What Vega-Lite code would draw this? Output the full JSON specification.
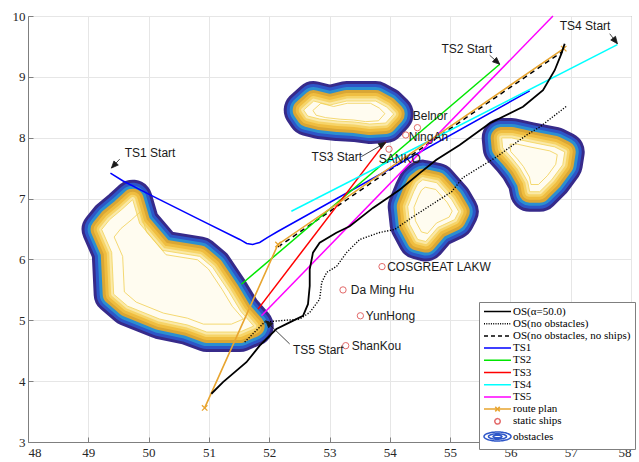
{
 "$schema": "https://vega.github.io/schema/vega-lite/v6.json",
 "width": 603, "height": 426,
 "autosize": {"type": "none"},
 "padding": {"left": 28, "top": 16, "right": 8, "bottom": 20},
 "background": "white",
 "config": {
  "view": {"stroke": "#7f7f7f", "strokeWidth": 1},
  "axis": {"domainColor": "#7f7f7f", "gridColor": "#e6e6e6", "gridWidth": 1, "tickColor": "#7f7f7f", "tickSize": -5, "labelFont": "Liberation Serif", "labelFontSize": 13, "labelColor": "#262626", "title": null},
  "axisX": {"labelPadding": 9},
  "axisY": {"labelPadding": 8}
 },
 "datasets": {
  "obs": [
   {"id":"o1","x":49.736,"y":6.982},{"id":"o1","x":49.852,"y":6.590},{"id":"o1","x":50.234,"y":6.148},{"id":"o1","x":50.848,"y":6.050},{"id":"o1","x":51.063,"y":5.870},{"id":"o1","x":51.328,"y":5.478},{"id":"o1","x":51.527,"y":5.150},{"id":"o1","x":51.743,"y":4.905},{"id":"o1","x":51.511,"y":4.807},{"id":"o1","x":50.964,"y":4.807},{"id":"o1","x":50.649,"y":4.922},{"id":"o1","x":50.184,"y":5.020},{"id":"o1","x":49.653,"y":5.232},{"id":"o1","x":49.421,"y":5.429},{"id":"o1","x":49.388,"y":6.116},{"id":"o1","x":49.222,"y":6.492},{"id":"o1","x":49.355,"y":6.655},{"id":"o1","x":49.554,"y":6.819},{"id":"o1","x":49.736,"y":6.982},
   {"id":"o2","x":52.572,"y":8.454},{"id":"o2","x":52.738,"y":8.602},{"id":"o2","x":53.003,"y":8.536},{"id":"o2","x":53.285,"y":8.602},{"id":"o2","x":53.766,"y":8.602},{"id":"o2","x":53.949,"y":8.503},{"id":"o2","x":54.065,"y":8.389},{"id":"o2","x":53.932,"y":8.242},{"id":"o2","x":53.667,"y":8.225},{"id":"o2","x":53.418,"y":8.258},{"id":"o2","x":53.136,"y":8.274},{"id":"o2","x":52.838,"y":8.307},{"id":"o2","x":52.639,"y":8.356},{"id":"o2","x":52.572,"y":8.454},
   {"id":"o3","x":54.546,"y":7.309},{"id":"o3","x":54.778,"y":7.260},{"id":"o3","x":55.027,"y":6.982},{"id":"o3","x":55.143,"y":6.786},{"id":"o3","x":55.076,"y":6.655},{"id":"o3","x":54.795,"y":6.524},{"id":"o3","x":54.596,"y":6.295},{"id":"o3","x":54.463,"y":6.328},{"id":"o3","x":54.330,"y":6.573},{"id":"o3","x":54.297,"y":6.868},{"id":"o3","x":54.397,"y":7.113},{"id":"o3","x":54.463,"y":7.244},{"id":"o3","x":54.546,"y":7.309},
   {"id":"o4","x":55.856,"y":7.996},{"id":"o4","x":56.022,"y":7.996},{"id":"o4","x":56.320,"y":7.931},{"id":"o4","x":56.735,"y":7.849},{"id":"o4","x":56.901,"y":7.767},{"id":"o4","x":56.868,"y":7.555},{"id":"o4","x":56.685,"y":7.309},{"id":"o4","x":56.486,"y":7.113},{"id":"o4","x":56.320,"y":7.113},{"id":"o4","x":56.287,"y":7.277},{"id":"o4","x":56.154,"y":7.506},{"id":"o4","x":56.022,"y":7.669},{"id":"o4","x":55.872,"y":7.833},{"id":"o4","x":55.856,"y":7.996}
  ],
  "obsIn": [
   {"id":"o1","x":49.865,"y":6.786},{"id":"o1","x":49.964,"y":6.453},{"id":"o1","x":50.289,"y":6.077},{"id":"o1","x":50.811,"y":5.994},{"id":"o1","x":50.993,"y":5.841},{"id":"o1","x":51.219,"y":5.507},{"id":"o1","x":51.388,"y":5.229},{"id":"o1","x":51.571,"y":5.020},{"id":"o1","x":51.374,"y":4.937},{"id":"o1","x":50.909,"y":4.937},{"id":"o1","x":50.642,"y":5.035},{"id":"o1","x":50.246,"y":5.118},{"id":"o1","x":49.795,"y":5.298},{"id":"o1","x":49.598,"y":5.466},{"id":"o1","x":49.570,"y":6.050},{"id":"o1","x":49.429,"y":6.369},{"id":"o1","x":49.542,"y":6.508},{"id":"o1","x":49.711,"y":6.647},{"id":"o1","x":49.865,"y":6.786},
   {"id":"o2","x":52.725,"y":8.448},{"id":"o2","x":52.857,"y":8.566},{"id":"o2","x":53.069,"y":8.513},{"id":"o2","x":53.295,"y":8.566},{"id":"o2","x":53.680,"y":8.566},{"id":"o2","x":53.826,"y":8.487},{"id":"o2","x":53.919,"y":8.396},{"id":"o2","x":53.813,"y":8.278},{"id":"o2","x":53.601,"y":8.264},{"id":"o2","x":53.401,"y":8.291},{"id":"o2","x":53.176,"y":8.304},{"id":"o2","x":52.937,"y":8.330},{"id":"o2","x":52.778,"y":8.369},{"id":"o2","x":52.725,"y":8.448},
   {"id":"o3","x":54.587,"y":7.187},{"id":"o3","x":54.762,"y":7.150},{"id":"o3","x":54.948,"y":6.941},{"id":"o3","x":55.035,"y":6.794},{"id":"o3","x":54.985,"y":6.696},{"id":"o3","x":54.774,"y":6.598},{"id":"o3","x":54.625,"y":6.426},{"id":"o3","x":54.525,"y":6.451},{"id":"o3","x":54.425,"y":6.634},{"id":"o3","x":54.401,"y":6.856},{"id":"o3","x":54.476,"y":7.040},{"id":"o3","x":54.525,"y":7.138},{"id":"o3","x":54.587,"y":7.187},
   {"id":"o4","x":55.993,"y":7.894},{"id":"o4","x":56.117,"y":7.894},{"id":"o4","x":56.341,"y":7.845},{"id":"o4","x":56.652,"y":7.784},{"id":"o4","x":56.777,"y":7.722},{"id":"o4","x":56.752,"y":7.563},{"id":"o4","x":56.615,"y":7.378},{"id":"o4","x":56.465,"y":7.231},{"id":"o4","x":56.341,"y":7.231},{"id":"o4","x":56.316,"y":7.354},{"id":"o4","x":56.216,"y":7.526},{"id":"o4","x":56.117,"y":7.649},{"id":"o4","x":56.005,"y":7.772},{"id":"o4","x":55.993,"y":7.894}
  ],
  "ts": [
   {"series":"TS1","x":49.367,"y":7.419},{"series":"TS1","x":49.570,"y":7.293},{"series":"TS1","x":50.018,"y":7.064},{"series":"TS1","x":50.847,"y":6.655},{"series":"TS1","x":51.511,"y":6.328},{"series":"TS1","x":51.627,"y":6.263},{"series":"TS1","x":51.726,"y":6.246},{"series":"TS1","x":51.842,"y":6.279},{"series":"TS1","x":51.975,"y":6.361},{"series":"TS1","x":52.141,"y":6.459},{"series":"TS1","x":56.320,"y":8.770},
   {"series":"TS2","x":51.539,"y":5.592},{"series":"TS2","x":55.823,"y":9.207},
   {"series":"TS3","x":51.814,"y":5.183},{"series":"TS3","x":53.932,"y":7.931},
   {"series":"TS4","x":52.368,"y":6.791},{"series":"TS4","x":57.774,"y":9.529},
   {"series":"TS5","x":51.871,"y":5.074},{"series":"TS5","x":56.706,"y":10.0}
  ],
  "route": [
   {"series":"route plan","x":50.93,"y":3.56},{"series":"route plan","x":52.146,"y":6.246},{"series":"route plan","x":56.884,"y":9.464}
  ],
  "os": [
   {"series":"OS(α=50.0)","x":51.041,"y":3.793},{"series":"OS(α=50.0)","x":51.234,"y":3.984},{"series":"OS(α=50.0)","x":51.622,"y":4.311},{"series":"OS(α=50.0)","x":51.842,"y":4.583},{"series":"OS(α=50.0)","x":52.119,"y":4.856},{"series":"OS(α=50.0)","x":52.340,"y":4.966},{"series":"OS(α=50.0)","x":52.561,"y":5.074},{"series":"OS(α=50.0)","x":52.643,"y":5.265},{"series":"OS(α=50.0)","x":52.672,"y":5.564},{"series":"OS(α=50.0)","x":52.672,"y":5.837},{"series":"OS(α=50.0)","x":52.726,"y":6.111},{"series":"OS(α=50.0)","x":52.837,"y":6.274},{"series":"OS(α=50.0)","x":53.114,"y":6.438},{"series":"OS(α=50.0)","x":53.335,"y":6.546},{"series":"OS(α=50.0)","x":53.721,"y":6.847},{"series":"OS(α=50.0)","x":54.164,"y":7.146},{"series":"OS(α=50.0)","x":54.496,"y":7.419},{"series":"OS(α=50.0)","x":54.773,"y":7.637},{"series":"OS(α=50.0)","x":55.159,"y":7.882},{"series":"OS(α=50.0)","x":55.657,"y":8.237},{"series":"OS(α=50.0)","x":56.209,"y":8.508},{"series":"OS(α=50.0)","x":56.541,"y":8.781},{"series":"OS(α=50.0)","x":56.735,"y":9.109},{"series":"OS(α=50.0)","x":56.846,"y":9.382},{"series":"OS(α=50.0)","x":56.900,"y":9.545}
  ],
  "osDot": [
   {"series":"OS(no obstacles)","x":51.594,"y":4.643},{"series":"OS(no obstacles)","x":51.760,"y":4.807},{"series":"OS(no obstacles)","x":51.925,"y":4.971},{"series":"OS(no obstacles)","x":52.174,"y":4.992},{"series":"OS(no obstacles)","x":52.506,"y":5.020},{"series":"OS(no obstacles)","x":52.672,"y":5.129},{"series":"OS(no obstacles)","x":52.837,"y":5.347},{"series":"OS(no obstacles)","x":52.871,"y":5.625},{"series":"OS(no obstacles)","x":52.954,"y":5.788},{"series":"OS(no obstacles)","x":53.119,"y":5.887},{"series":"OS(no obstacles)","x":53.285,"y":6.116},{"series":"OS(no obstacles)","x":53.501,"y":6.328},{"series":"OS(no obstacles)","x":53.833,"y":6.443},{"series":"OS(no obstacles)","x":54.081,"y":6.492},{"series":"OS(no obstacles)","x":54.363,"y":6.688},{"series":"OS(no obstacles)","x":55.027,"y":7.113},{"series":"OS(no obstacles)","x":55.209,"y":7.342},{"series":"OS(no obstacles)","x":55.773,"y":7.686},{"series":"OS(no obstacles)","x":56.270,"y":8.045},{"series":"OS(no obstacles)","x":56.486,"y":8.176},{"series":"OS(no obstacles)","x":56.934,"y":8.520}
  ],
  "osDash": [
   {"series":"OS(no obstacles, no ships)","x":52.146,"y":6.205},{"series":"OS(no obstacles, no ships)","x":56.867,"y":9.419}
  ],
  "ships": [
   {"series":"static ships","name":"Belnor","x":54.458,"y":8.165,"lx":54.380,"ly":8.356},
   {"series":"static ships","name":"NingAn","x":54.264,"y":8.045,"lx":54.314,"ly":8.013},
   {"series":"static ships","name":"SANKO","x":53.987,"y":7.812,"lx":53.816,"ly":7.653},
   {"series":"static ships","name":"COSGREAT LAKW","x":53.871,"y":5.882,"lx":53.957,"ly":5.878},
   {"series":"static ships","name":"Da Ming Hu","x":53.224,"y":5.499,"lx":53.352,"ly":5.494},
   {"series":"static ships","name":"YunHong","x":53.512,"y":5.074,"lx":53.600,"ly":5.069},
   {"series":"static ships","name":"ShanKou","x":53.269,"y":4.583,"lx":53.368,"ly":4.578}
  ],
  "starts": [
   {"label":"TS1 Start","x":49.604,"y":7.756},
   {"label":"TS2 Start","x":54.856,"y":9.464},
   {"label":"TS3 Start","x":52.700,"y":7.681},
   {"label":"TS4 Start","x":56.818,"y":9.828},
   {"label":"TS5 Start","x":52.395,"y":4.517}
  ],
  "arrows": [
   {"id":"a1","x":49.521,"y":7.648},{"id":"a1","x":49.383,"y":7.501},{"id":"a1","x":49.498,"y":7.552},{"id":"a1","x":49.425,"y":7.618},{"id":"a1","x":49.383,"y":7.501},
   {"id":"a2","x":55.657,"y":9.354},{"id":"a2","x":55.823,"y":9.207},{"id":"a2","x":55.703,"y":9.247},{"id":"a2","x":55.770,"y":9.320},{"id":"a2","x":55.823,"y":9.207},
   {"id":"a3","x":53.529,"y":7.690},{"id":"a3","x":53.932,"y":7.920},{"id":"a3","x":53.856,"y":7.820},{"id":"a3","x":53.807,"y":7.905},{"id":"a3","x":53.932,"y":7.920},
   {"id":"a4","x":57.647,"y":9.709},{"id":"a4","x":57.775,"y":9.545},{"id":"a4","x":57.664,"y":9.606},{"id":"a4","x":57.743,"y":9.666},{"id":"a4","x":57.775,"y":9.545},
   {"id":"a5","x":52.340,"y":4.611},{"id":"a5","x":51.942,"y":4.992},{"id":"a5","x":52.060,"y":4.947},{"id":"a5","x":51.991,"y":4.877},{"id":"a5","x":51.942,"y":4.992}
  ]
 },
 "encoding": {
  "x": {"field": "x", "type": "quantitative", "scale": {"domain": [48, 58], "nice": false, "zero": false}, "axis": {"values": [48,49,50,51,52,53,54,55,56,57,58], "format": "d", "title": null}},
  "y": {"field": "y", "type": "quantitative", "scale": {"domain": [3, 10], "nice": false, "zero": false}, "axis": {"values": [3,4,5,6,7,8,9,10], "format": "d", "title": null}}
 },
 "layer": [
  {"data": {"name": "obs"}, "mark": {"type": "line", "stroke": "#372a8a", "strokeWidth": 40, "strokeJoin": "round", "strokeCap": "round"}, "encoding": {"detail": {"field": "id"}, "order": {"value": null}}},
  {"data": {"name": "obs"}, "mark": {"type": "line", "stroke": "#2d56c8", "strokeWidth": 34, "strokeJoin": "round", "strokeCap": "round"}, "encoding": {"detail": {"field": "id"}, "order": {"value": null}}},
  {"data": {"name": "obs"}, "mark": {"type": "line", "stroke": "#2b8fd0", "strokeWidth": 28, "strokeJoin": "round", "strokeCap": "round"}, "encoding": {"detail": {"field": "id"}, "order": {"value": null}}},
  {"data": {"name": "obs"}, "mark": {"type": "line", "stroke": "#d9a634", "strokeWidth": 22, "strokeJoin": "round", "strokeCap": "round"}, "encoding": {"detail": {"field": "id"}, "order": {"value": null}}},
  {"data": {"name": "obs"}, "mark": {"type": "line", "stroke": "#efbd40", "strokeWidth": 16, "strokeJoin": "round", "strokeCap": "round"}, "encoding": {"detail": {"field": "id"}, "order": {"value": null}}},
  {"data": {"name": "obs"}, "mark": {"type": "line", "stroke": "#f6d468", "strokeWidth": 10, "strokeJoin": "round", "strokeCap": "round"}, "encoding": {"detail": {"field": "id"}, "order": {"value": null}}},
  {"data": {"name": "obs"}, "mark": {"type": "line", "stroke": "#fae9a8", "strokeWidth": 5, "strokeJoin": "round", "strokeCap": "round"}, "encoding": {"detail": {"field": "id"}, "order": {"value": null}}},
  {"data": {"name": "obs"}, "mark": {"type": "line", "stroke": "#f3d35a", "strokeWidth": 0.8, "fill": "#fffcf0", "strokeJoin": "round"}, "encoding": {"detail": {"field": "id"}, "order": {"value": null}}},
  {"data": {"name": "obsIn"}, "mark": {"type": "line", "stroke": "#f1cf52", "strokeWidth": 0.8, "strokeJoin": "round"}, "encoding": {"detail": {"field": "id"}, "order": {"value": null}}},
  {"data": {"name": "osDot"}, "mark": {"type": "line", "strokeWidth": 1.4, "strokeDash": [1.2, 1.6]}, "encoding": {"order": {"value": null},
    "color": {"field": "series", "type": "nominal", "scale": {"domain": ["OS(α=50.0)","OS(no obstacles)","OS(no obstacles, no ships)","TS1","TS2","TS3","TS4","TS5","route plan","static ships","obstacles"], "range": ["#000000","#000000","#000000","#0000ff","#00e600","#ff0000","#00ffff","#ff00ff","#e8a530","#e36a6a","#2d56c8"]},
     "legend": {"orient": "none", "legendX": 451, "legendY": 286, "title": null, "padding": 4, "rowPadding": 0.2, "strokeColor": "#7f7f7f", "fillColor": "white", "labelFont": "Liberation Serif", "labelFontSize": 11, "labelColor": "#000000", "labelOffset": 19, "labelLimit": 300, "symbolSize": 81, "symbolStrokeWidth": 1.5, "cornerRadius": 0,
      "encode": {"symbols": {"update": {
        "shape": {"signal": "datum.value === 'route plan' ? 'M-1,0H5M1.5,-0.5L2.5,0.5M1.5,0.5L2.5,-0.5' : datum.value === 'static ships' ? 'M1.4,0A0.6,0.6 0 1,0 2.6,0A0.6,0.6 0 1,0 1.4,0Z' : datum.value === 'obstacles' ? 'M-1,0A3,1 0 1,0 5,0A3,1 0 1,0 -1,0ZM0,0A2,0.6 0 1,0 4,0A2,0.6 0 1,0 0,0ZM1,0A1,0.3 0 1,0 3,0A1,0.3 0 1,0 1,0Z' : 'M-1,0H5'"},
        "strokeDash": {"signal": "datum.value === 'OS(no obstacles)' ? [1,1.3] : datum.value === 'OS(no obstacles, no ships)' ? [4,3] : [1,0]"},
        "size": {"value": 81}, "fill": {"value": "transparent"}, "opacity": {"value": 1}, "strokeWidth": {"value": 1.5}}}}}}}},
  {"data": {"name": "osDash"}, "mark": {"type": "line", "strokeWidth": 1.5, "strokeDash": [5, 4]}, "encoding": {"order": {"value": null},
    "color": {"field": "series", "type": "nominal", "scale": {"domain": ["OS(α=50.0)","OS(no obstacles)","OS(no obstacles, no ships)","TS1","TS2","TS3","TS4","TS5","route plan","static ships","obstacles"], "range": ["#000000","#000000","#000000","#0000ff","#00e600","#ff0000","#00ffff","#ff00ff","#e8a530","#e36a6a","#2d56c8"]}}}},
  {"data": {"name": "ts"}, "mark": {"type": "line", "strokeWidth": 1.5}, "encoding": {"order": {"value": null},
    "color": {"field": "series", "type": "nominal", "scale": {"domain": ["OS(α=50.0)","OS(no obstacles)","OS(no obstacles, no ships)","TS1","TS2","TS3","TS4","TS5","route plan","static ships","obstacles"], "range": ["#000000","#000000","#000000","#0000ff","#00e600","#ff0000","#00ffff","#ff00ff","#e8a530","#e36a6a","#2d56c8"]}}}},
  {"data": {"name": "route"}, "mark": {"type": "line", "strokeWidth": 1.6}, "encoding": {"order": {"value": null},
    "color": {"field": "series", "type": "nominal", "scale": {"domain": ["OS(α=50.0)","OS(no obstacles)","OS(no obstacles, no ships)","TS1","TS2","TS3","TS4","TS5","route plan","static ships","obstacles"], "range": ["#000000","#000000","#000000","#0000ff","#00e600","#ff0000","#00ffff","#ff00ff","#e8a530","#e36a6a","#2d56c8"]}}}},
  {"data": {"name": "route"}, "mark": {"type": "point", "shape": "M-1,-1L1,1M-1,1L1,-1", "size": 30, "filled": false, "strokeWidth": 1.3, "opacity": 1}, "encoding": {
    "color": {"field": "series", "type": "nominal", "scale": {"domain": ["OS(α=50.0)","OS(no obstacles)","OS(no obstacles, no ships)","TS1","TS2","TS3","TS4","TS5","route plan","static ships","obstacles"], "range": ["#000000","#000000","#000000","#0000ff","#00e600","#ff0000","#00ffff","#ff00ff","#e8a530","#e36a6a","#2d56c8"]}}}},
  {"data": {"name": "os"}, "mark": {"type": "line", "strokeWidth": 1.8}, "encoding": {"order": {"value": null},
    "color": {"field": "series", "type": "nominal", "scale": {"domain": ["OS(α=50.0)","OS(no obstacles)","OS(no obstacles, no ships)","TS1","TS2","TS3","TS4","TS5","route plan","static ships","obstacles"], "range": ["#000000","#000000","#000000","#0000ff","#00e600","#ff0000","#00ffff","#ff00ff","#e8a530","#e36a6a","#2d56c8"]}}}},
  {"data": {"name": "ships"}, "mark": {"type": "point", "shape": "circle", "size": 40, "filled": false, "strokeWidth": 1, "opacity": 1}, "encoding": {
    "color": {"field": "series", "type": "nominal", "scale": {"domain": ["OS(α=50.0)","OS(no obstacles)","OS(no obstacles, no ships)","TS1","TS2","TS3","TS4","TS5","route plan","static ships","obstacles"], "range": ["#000000","#000000","#000000","#0000ff","#00e600","#ff0000","#00ffff","#ff00ff","#e8a530","#e36a6a","#2d56c8"]}}}},
  {"data": {"name": "ships"}, "mark": {"type": "text", "align": "left", "baseline": "middle", "font": "Liberation Sans", "fontSize": 12, "color": "#1a1a1a"}, "encoding": {
    "x": {"field": "lx", "type": "quantitative"}, "y": {"field": "ly", "type": "quantitative"}, "text": {"field": "name"}}},
  {"data": {"name": "starts"}, "mark": {"type": "text", "align": "left", "baseline": "middle", "font": "Liberation Sans", "fontSize": 12, "color": "#1a1a1a"}, "encoding": {
    "text": {"field": "label"}}},
  {"data": {"name": "arrows"}, "mark": {"type": "line", "stroke": "#1a1a1a", "strokeWidth": 0.8, "fill": "#1a1a1a"}, "encoding": {"detail": {"field": "id"}, "order": {"value": null}}}
 ]
}
